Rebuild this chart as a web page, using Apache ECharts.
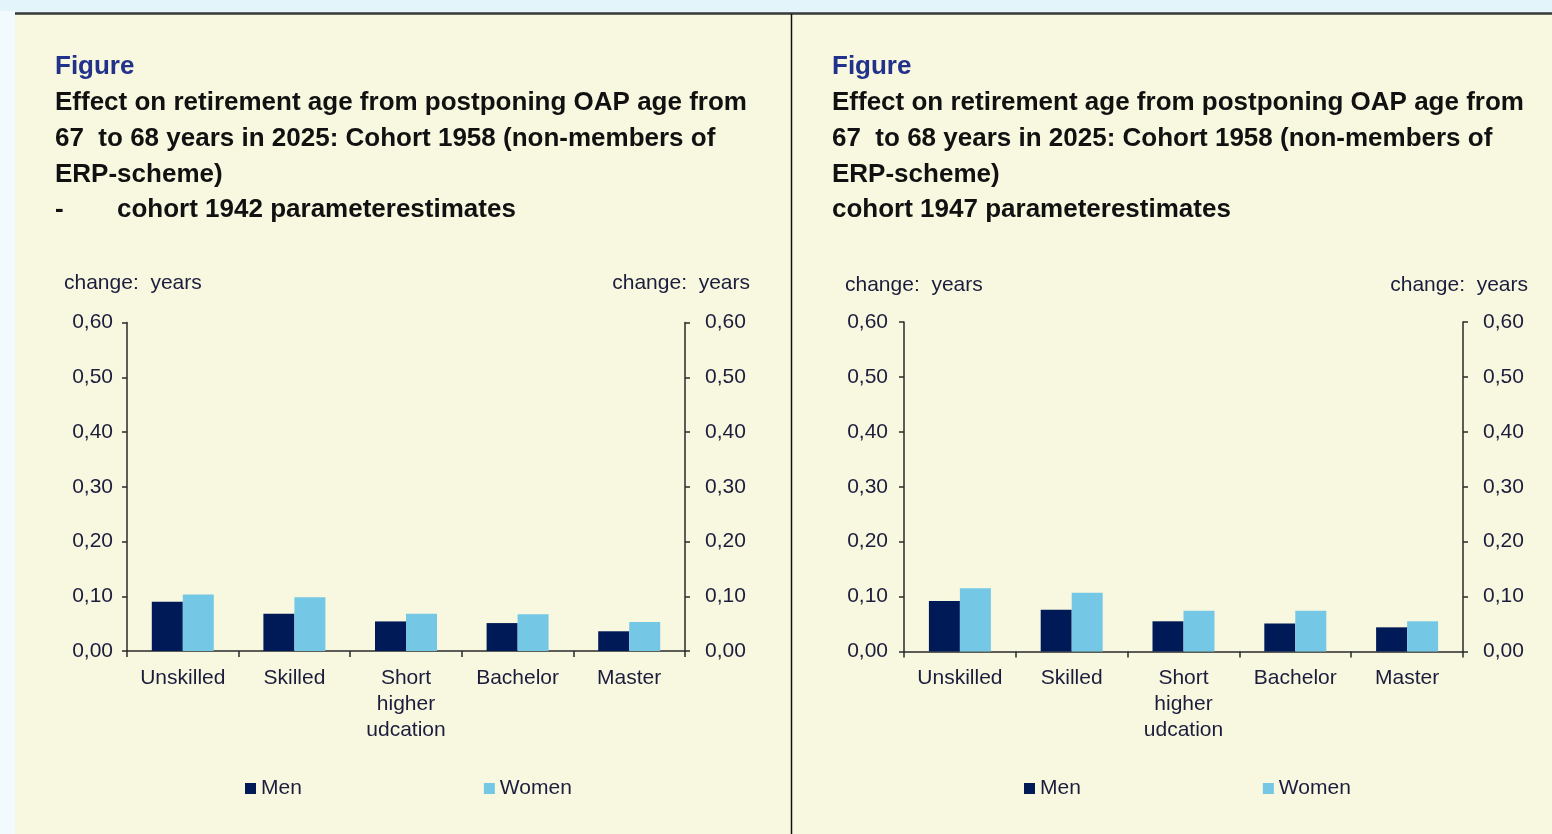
<!DOCTYPE html>
<html>
<head>
<meta charset="utf-8">
<script src="https://cdn.jsdelivr.net/npm/echarts@6/dist/echarts.min.js"></script>
<style>
  html, body { margin: 0; padding: 0; background: #e4f4fb; }
  #chart { width: 1552px; height: 834px; }
</style>
</head>
<body>
<div id="chart"></div>
<script>
// Education groups on the category axis
const categories = ['Unskilled', 'Skilled', 'Short\nhigher\nudcation', 'Bachelor', 'Master'];

// Change in retirement age (years), cohort 1942 parameter estimates
const men1942 = [0.090, 0.068, 0.054, 0.051, 0.036];
const women1942 = [0.103, 0.098, 0.068, 0.067, 0.053];

// Change in retirement age (years), cohort 1947 parameter estimates
const men1947 = [0.092, 0.076, 0.055, 0.051, 0.044];
const women1947 = [0.115, 0.107, 0.074, 0.074, 0.055];

// Value axis range
const yMin = 0;
const yMax = 0.6;
const yStep = 0.1;

const seriesNames = ['Men', 'Women'];
const headingWord = 'Figure';
const titleLines = [
  'Effect on retirement age from postponing OAP age from',
  '67  to 68 years in 2025: Cohort 1958 (non-members of',
  'ERP-scheme)'
];
const subtitle1942 = 'cohort 1942 parameterestimates';
const subtitle1947 = 'cohort 1947 parameterestimates';
const unitLabel = 'change:  years';

const MEN_COLOR = '#001a57';
const WOMEN_COLOR = '#74c8e6';
const TEXT_COLOR = '#1c1c3c';
const AXIS_COLOR = '#2a2a2a';
const FONT = '"Liberation Sans", Arial, sans-serif';
const TITLE_FONT = 'bold 26px ' + FONT;

const fmt = v => v.toFixed(2).replace('.', ',');

function panelGraphics(x0, subtitle, dash) {
  const items = [];
  items.push({
    type: 'text', left: x0, top: 54,
    style: { text: headingWord, font: TITLE_FONT, fill: '#22318a' }
  });
  titleLines.forEach((line, i) => {
    items.push({
      type: 'text', left: x0, top: 90 + i * 36,
      style: { text: line, font: TITLE_FONT, fill: '#111' }
    });
  });
  if (dash) {
    items.push({
      type: 'text', left: x0, top: 197,
      style: { text: '-', font: TITLE_FONT, fill: '#111' }
    });
  }
  items.push({
    type: 'text', left: dash ? x0 + 62 : x0, top: 197,
    style: { text: subtitle, font: TITLE_FONT, fill: '#111' }
  });
  return items;
}

function unitText(x, align, y) {
  return {
    type: 'text', x: x, y: y,
    style: { text: unitLabel, font: '21px ' + FONT, fill: TEXT_COLOR, align: align, verticalAlign: 'middle' }
  };
}

function yAxisDef(gridIndex, position, margin) {
  return {
    type: 'value', gridIndex: gridIndex, position: position,
    min: yMin, max: yMax, interval: yStep,
    splitLine: { show: false },
    axisLine: { show: true, lineStyle: { color: AXIS_COLOR, width: 1.5 } },
    axisTick: { show: true, length: 5, lineStyle: { color: AXIS_COLOR, width: 1.5 } },
    axisLabel: { formatter: fmt, margin: margin, fontSize: 21, fontFamily: FONT, color: TEXT_COLOR }
  };
}

function xAxisDef(gridIndex) {
  return {
    type: 'category', gridIndex: gridIndex, data: categories,
    axisLine: { show: true, lineStyle: { color: AXIS_COLOR, width: 1.5 } },
    axisTick: { show: true, length: 6, lineStyle: { color: AXIS_COLOR, width: 1.5 } },
    axisLabel: { interval: 0, margin: 14, fontSize: 21, lineHeight: 26, fontFamily: FONT, color: TEXT_COLOR }
  };
}

function barSeries(name, data, color, axisIndex) {
  return {
    type: 'bar', name: name, data: data,
    xAxisIndex: axisIndex, yAxisIndex: axisIndex * 2,
    barWidth: 31, barGap: '0%',
    itemStyle: { color: color },
    emphasis: { disabled: true }
  };
}

function legendDef(left) {
  return {
    data: seriesNames, left: left, top: 778, icon: 'rect', padding: 0,
    itemWidth: 11, itemHeight: 11, itemGap: 182,
    textStyle: { fontSize: 21, fontFamily: FONT, color: TEXT_COLOR }
  };
}

const chart = echarts.init(document.getElementById('chart'), null, { renderer: 'canvas' });

chart.setOption({
  backgroundColor: '#e4f4fb',
  animation: false,
  textStyle: { fontFamily: FONT },
  graphic: [
    { type: 'rect', shape: { x: 0, y: 11, width: 15, height: 823 }, style: { fill: '#f2fafe' }, z: -10 },
    { type: 'rect', shape: { x: 15, y: 13, width: 1537, height: 821 }, style: { fill: '#f8f8e0' }, z: -10 },
    { type: 'line', shape: { x1: 15, y1: 13.5, x2: 1552, y2: 13.5 }, style: { stroke: '#383838', lineWidth: 2.5 }, z: -5 },
    { type: 'line', shape: { x1: 791.5, y1: 14, x2: 791.5, y2: 834 }, style: { stroke: '#111', lineWidth: 1.5 }, z: -5 },
    ...panelGraphics(55, subtitle1942, true),
    ...panelGraphics(832, subtitle1947, false),
    unitText(64, 'left', 283),
    unitText(750, 'right', 283),
    unitText(845, 'left', 285),
    unitText(1528, 'right', 285)
  ],
  legend: [legendDef(245), legendDef(1024)],
  grid: [
    { left: 127, top: 322.5, width: 558, height: 328.5, containLabel: false },
    { left: 904, top: 322, width: 559, height: 329.5, containLabel: false }
  ],
  xAxis: [xAxisDef(0), xAxisDef(1)],
  yAxis: [
    yAxisDef(0, 'left', 14),
    yAxisDef(0, 'right', 20),
    yAxisDef(1, 'left', 16),
    yAxisDef(1, 'right', 20)
  ],
  series: [
    barSeries('Men', men1942, MEN_COLOR, 0),
    barSeries('Women', women1942, WOMEN_COLOR, 0),
    barSeries('Men', men1947, MEN_COLOR, 1),
    barSeries('Women', women1947, WOMEN_COLOR, 1)
  ]
});
</script>
</body>
</html>
